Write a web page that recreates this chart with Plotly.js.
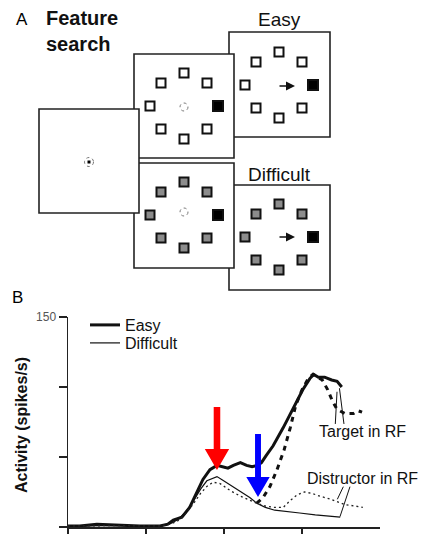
<!DOCTYPE html>
<html>
<head>
<meta charset="utf-8">
<script src="https://cdn.plot.ly/plotly-3.0.1.min.js"></script>
<style>html,body{margin:0;padding:0;background:#fff;}#chart{width:425px;height:534px;}</style>
</head>
<body>
<div id="chart"></div>
<script>
// ---------- Panel B data (time in ms after array onset, activity in spikes/s) ----------
const easyTargetT = [0,15,37,60,92,118,128,135,146,156,165,173,182,191,198,205,212,221,229,236,243,248,254,263,276,288,301,310,315,321,329,338,345,351];
const easyTargetR = [0.7,0.7,2,1.4,0.7,0.7,2,5,7,14,24,34,41,44,43,42,44,46,44,43,44,46,51,58,71,84,98,106,109,107,107,105,104,100];

const diffTargetT = [242,250,259,268,277,285,292,300,308,314,320,326,333,339,345,355,366,372,377];
const diffTargetR = [17,21,29,41,55,71,87,98,106,109,107,105,98,90,84,81,81,83,82];

const easyDistT = [0,60,118,130,140,150,160,170,178,186,191,197,208,221,233,242,253,265,278,297,317,336,349];
const easyDistR = [0.7,1,0.7,2,5,10,18,27,33,35,36,34,30,25,21,17,14,12,11,10,8.6,7.9,7.1];

const diffDistT = [0,60,118,130,140,150,160,170,178,186,195,208,221,233,242,253,265,276,285,294,303,313,323,336,345,355,368,378];
const diffDistR = [0.7,1,0.7,2,4,9,16,24,29,32,31,26,22,19,17,15,14,14,19,23,25,24,22,20,18,16,15,14];

const xTicks = [0,100,200,300];
const yTicks = [0,50,100,150];
const yTickText = ['','','','150'];

// ---------- Panel A schematic (pixel canvas) ----------
const itemDX = [0,23,34,23,0,-23,-34,-23];
const itemDY = [-33,-23,0,23,33,23,0,-23];
const isTarget = [false,false,true,false,false,false,false,false];
const displayCX = [184,279,184,279];
const displayCY = [106,85,215,237];
const displayHard = [false,false,true,true];

const sqX=[], sqY=[], sqFill=[], sqSize=[];
for (let d=0; d<displayCX.length; d++) {
  for (let k=0; k<itemDX.length; k++) {
    sqX.push(displayCX[d]+itemDX[k]);
    sqY.push(displayCY[d]+itemDY[k]);
    sqFill.push(isTarget[k] ? '#000' : (displayHard[d] ? '#8c8c8c' : '#fff'));
    sqSize.push(isTarget[k] ? 10 : 9);
  }
}

const W=425, H=534;
const traces = [
  {x:easyTargetT, y:easyTargetR, mode:'lines', name:'Easy', line:{color:'#111', width:3}, legend:'legend', xaxis:'x', yaxis:'y'},
  {x:easyDistT, y:easyDistR, mode:'lines', name:'Difficult', line:{color:'#111', width:1.2}, legend:'legend2', xaxis:'x', yaxis:'y'},
  {x:diffDistT, y:diffDistR, mode:'lines', name:'Difficult distractor', showlegend:false, line:{color:'#222', width:1.3, dash:'2px,3px'}, xaxis:'x', yaxis:'y'},
  {x:diffTargetT, y:diffTargetR, mode:'lines', name:'Difficult target', showlegend:false, line:{color:'#111', width:3, dash:'5px,5px'}, xaxis:'x', yaxis:'y'},
  {x:sqX, y:sqY, mode:'markers', showlegend:false, hoverinfo:'skip', xaxis:'x2', yaxis:'y2',
   marker:{symbol:'square', size:sqSize, sizemode:'diameter', sizeref:1, opacity:1, color:sqFill, line:{color:'#111', width:2}}}
];

function arrow(cx, top, base, tip, hw, HW, color) {
  return {type:'path', xref:'x', yref:'y', layer:'above', fillcolor:color, line:{width:0},
    path:`M${cx-hw},${top} L${cx+hw},${top} L${cx+hw},${base} L${cx+HW},${base} L${cx},${tip} L${cx-HW},${base} L${cx-hw},${base} Z`};
}
function box(x0,y0,x1,y1){
  return {type:'rect', xref:'x2', yref:'y2', layer:'below', x0:x0, y0:y0, x1:x1, y1:y1, fillcolor:'#fff', line:{color:'#222', width:1.6}};
}
function pline(x0,y0,x1,y1){
  return {type:'line', xref:'x', yref:'y', layer:'above', x0:x0, y0:y0, x1:x1, y1:y1, line:{color:'#111', width:1}};
}
function ring(cx,cy,r){
  return {type:'circle', xref:'x2', yref:'y2', layer:'above', x0:cx-r, y0:cy-r, x1:cx+r, y1:cy+r, line:{color:'#777', width:1, dash:'dot'}};
}

const shapes = [
  box(229,32,330,137), box(229,185,330,290),
  box(134,54,234,158), box(134,163,234,268),
  box(39,109,139,213),
  ring(184,107,4), ring(184,212,4), ring(89,162,4.5),
  {type:'rect', xref:'x2', yref:'y2', layer:'above', x0:87.5, y0:160.5, x1:90.5, y1:163.5, fillcolor:'#000', line:{width:0}},
  arrow(191, 85.7, 55.7, 40.7, 4.2, 15.6, '#ff0000'),
  arrow(243.6, 66.4, 35.7, 21.4, 3.8, 15, '#0000ff'),
  pline(342.7,73.6,344.9,96.6), pline(353.8,73.6,348,99.1),
  pline(345.3,19.8,353,28.8), pline(348.7,7.4,361.5,28.8)
];

const F = 'Liberation Sans, Arial, sans-serif';
const annotations = [
  {xref:'x2', yref:'y2', x:22, y:19, text:'A', showarrow:false, font:{family:F, size:17, color:'#000'}},
  {xref:'x2', yref:'y2', x:44, y:31, xanchor:'left', align:'left', text:'<b>Feature<br>search</b>', showarrow:false, font:{family:F, size:20, color:'#111'}},
  {xref:'x2', yref:'y2', x:279, y:19, text:'Easy', showarrow:false, font:{family:F, size:19, color:'#111'}},
  {xref:'x2', yref:'y2', x:279, y:174, text:'Difficult', showarrow:false, font:{family:F, size:19, color:'#111'}},
  {xref:'x2', yref:'y2', x:17, y:297, text:'B', showarrow:false, font:{family:F, size:17, color:'#000'}},
  {xref:'x2', yref:'y2', x:21, y:425, text:'<b>Activity (spikes/s)</b>', textangle:-90, showarrow:false, font:{family:F, size:16, color:'#111'}},
  {xref:'x2', yref:'y2', x:295, y:86, ax:278, ay:86, axref:'x2', ayref:'y2', text:'', showarrow:true, arrowhead:2, arrowsize:1.2, arrowwidth:1.5, arrowcolor:'#111'},
  {xref:'x2', yref:'y2', x:295, y:237, ax:278, ay:237, axref:'x2', ayref:'y2', text:'', showarrow:true, arrowhead:2, arrowsize:1.2, arrowwidth:1.5, arrowcolor:'#111'},
  {xref:'x', yref:'y', x:377, y:67.9, text:'Target in RF', showarrow:false, font:{family:F, size:16, color:'#111'}},
  {xref:'x', yref:'y', x:378, y:35, text:'Distructor in RF', showarrow:false, font:{family:F, size:16, color:'#111'}}
];

const layout = {
  width:W, height:H, margin:{l:0,r:0,t:0,b:0},
  paper_bgcolor:'#fff', plot_bgcolor:'rgba(0,0,0,0)',
  font:{family:F, color:'#111'},
  showlegend:true,
  legend:{x:85/W, xanchor:'left', y:1-325/H, yanchor:'middle', bgcolor:'rgba(0,0,0,0)', font:{family:F, size:16, color:'#111'}},
  legend2:{x:85/W, xanchor:'left', y:1-343/H, yanchor:'middle', bgcolor:'rgba(0,0,0,0)', font:{family:F, size:16, color:'#111'}},
  xaxis:{domain:[68/W, 380/W], range:[0,400], anchor:'y', showline:true, linecolor:'#222', linewidth:1.5,
    ticks:'outside', ticklen:8, tickwidth:1.5, tickcolor:'#222', tickvals:xTicks, showticklabels:false,
    showgrid:false, zeroline:false, fixedrange:true},
  yaxis:{domain:[7/H, 217/H], range:[0,150], anchor:'x', showline:true, linecolor:'#222', linewidth:1.5,
    ticks:'outside', ticklen:8, tickwidth:1.5, tickcolor:'#222', tickvals:yTicks, ticktext:yTickText,
    tickfont:{family:F, size:12, color:'#555'}, showgrid:false, zeroline:false, fixedrange:true},
  xaxis2:{domain:[0,1], range:[0,W], anchor:'y2', visible:false, fixedrange:true},
  yaxis2:{domain:[0,1], range:[H,0], anchor:'x2', visible:false, fixedrange:true},
  shapes:shapes, annotations:annotations
};

Plotly.newPlot('chart', traces, layout, {displayModeBar:false, staticPlot:true});
</script>
</body>
</html>
